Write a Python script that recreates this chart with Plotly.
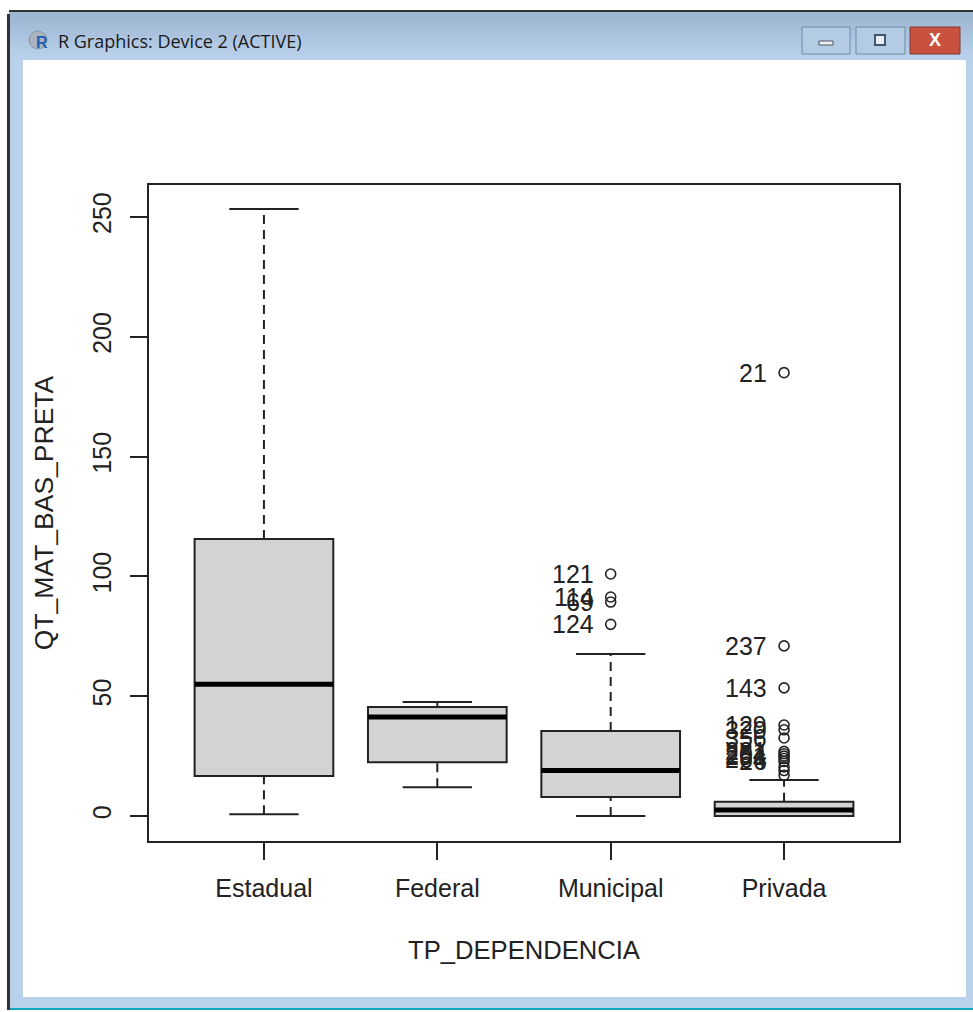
import plotly.graph_objects as go

categories = ["Estadual", "Federal", "Municipal", "Privada"]
positions = [1, 2, 3, 4]
whisker_low = [0.8, 12, 0, 0]
q1 = [16.7, 22.5, 8, 0]
median = [55, 41.3, 19, 2.5]
q3 = [115.6, 45.5, 35.5, 6]
whisker_high = [253.3, 47.6, 67.6, 15]

outlier_x = [3, 3, 3, 3, 4, 4, 4, 4, 4, 4, 4, 4, 4, 4, 4, 4, 4, 4]
outlier_y = [101, 91.4, 89.3, 80, 185, 71, 53.5, 38, 36, 32.6, 27, 26, 25, 24, 22.8, 20.5, 19, 17]
outlier_label = ["121", "114", "69", "124", "21", "237", "143", "129", "320", "356",
                 "281", "204", "251", "264", "26", "", "", ""]

y_ticks = [0, 50, 100, 150, 200, 250]
x_title = "TP_DEPENDENCIA"
y_title = "QT_MAT_BAS_PRETA"
window_title = "R Graphics: Device 2 (ACTIVE)"

W, H = 973, 1012
INK = "#222222"
FONT = "Liberation Sans"

fig = go.Figure()

fig.add_trace(go.Box(
    x=positions, q1=q1, median=median, q3=q3,
    lowerfence=q1, upperfence=q3, width=0.8, whiskerwidth=0,
    boxpoints=False, fillcolor="#d3d3d3", line=dict(color=INK, width=2),
    showlegend=False, hoverinfo="skip",
))

wx, wy, cx, cy, mx, my = [], [], [], [], [], []
for i, p in enumerate(positions):
    wx += [p, p, None, p, p, None]
    wy += [whisker_low[i], q1[i], None, q3[i], whisker_high[i], None]
    cx += [p - 0.2, p + 0.2, None, p - 0.2, p + 0.2, None]
    cy += [whisker_low[i], whisker_low[i], None, whisker_high[i], whisker_high[i], None]
    mx += [p - 0.4, p + 0.4, None]
    my += [median[i], median[i], None]

fig.add_trace(go.Scatter(x=wx, y=wy, mode="lines", showlegend=False, hoverinfo="skip",
                         line=dict(color=INK, width=2, dash="9px,6px")))
fig.add_trace(go.Scatter(x=cx, y=cy, mode="lines", showlegend=False, hoverinfo="skip",
                         line=dict(color=INK, width=2)))
fig.add_trace(go.Scatter(x=mx, y=my, mode="lines", showlegend=False, hoverinfo="skip",
                         line=dict(color="#000000", width=5)))
fig.add_trace(go.Scatter(x=outlier_x, y=outlier_y, mode="markers", showlegend=False,
                         hoverinfo="skip",
                         marker=dict(symbol="circle-open", size=10, color=INK,
                                     line=dict(color=INK, width=1.6))))

annotations = []
for x, y, t in zip(outlier_x, outlier_y, outlier_label):
    if t:
        annotations.append(dict(x=x, y=y, xref="x", yref="y", text=t, showarrow=False,
                                xanchor="right", yanchor="middle", xshift=-15, yshift=0,
                                font=dict(family=FONT, size=25, color=INK)))

# window frame, drawn on an overlay axis measured in page pixels
shapes = []


def rect(x0, y0, x1, y1, fill, line=None, lw=0):
    shapes.append(dict(type="rect", xref="x2", yref="y2", x0=x0, y0=y0, x1=x1, y1=y1,
                       fillcolor=fill, line=dict(color=line or fill, width=lw), layer="below"))


bar_colors = ["#9db6d1", "#a1b9d4", "#a5bdd8", "#a9c1dc", "#adc5e0", "#b1c9e3", "#b5cde6", "#b8d0e9"]
for k, c in enumerate(bar_colors):
    rect(9, 12 + k * 6, W, 18 + k * 6, c)
rect(9, 60, 23, 997, "#b9d1ea")
rect(966, 60, W, 997, "#b9d1ea")
rect(9, 997, W, 1008, "#b9d1ea")
rect(9, 1008, W, 1010, "#12a5b5")
rect(7, 14, 10, 1010, "#333333")
rect(9, 10, W, 12, "#333333")
rect(802, 27, 850, 54, "#b4cbe4", "#6f8ba8", 1)
rect(856, 27, 905, 54, "#b4cbe4", "#6f8ba8", 1)
rect(910, 27, 960, 54, "#c8523f", "#7d3a34", 1)
rect(819, 41, 833, 45, "#f0f0f0", "#445566", 1)
rect(875, 35, 885, 45, "#e6edf5", "#445566", 2)

shapes.append(dict(type="circle", xref="x2", yref="y2", x0=29, y0=31, x1=47, y1=49,
                   fillcolor="#a9b4c0", line=dict(color="#8796a6", width=1), layer="below"))

annotations.append(dict(x=56, y=41, xref="x2", yref="y2", text=window_title, showarrow=False,
                        xanchor="left", yanchor="middle",
                        font=dict(family="Open Sans", size=18, color="#1a1a1a")))
annotations.append(dict(x=42, y=42, xref="x2", yref="y2", text="<b>R</b>", showarrow=False,
                        font=dict(family=FONT, size=16, color="#1f5fb0")))
annotations.append(dict(x=935, y=40, xref="x2", yref="y2", text="<b>X</b>", showarrow=False,
                        font=dict(family=FONT, size=18, color="#ffffff")))

axis_common = dict(showline=True, linecolor=INK, linewidth=2, mirror=True, showgrid=False,
                   zeroline=False, ticks="outside", ticklen=17, tickwidth=2, tickcolor=INK,
                   tickfont=dict(family=FONT, size=25, color=INK))

fig.update_layout(
    width=W, height=H, autosize=False,
    margin=dict(l=0, r=0, t=0, b=0),
    paper_bgcolor="white", plot_bgcolor="rgba(0,0,0,0)",
    showlegend=False, shapes=shapes, annotations=annotations,
    xaxis=dict(domain=[149 / W, 899 / W], range=[0.337, 4.663],
               tickmode="array", tickvals=positions, ticktext=categories,
               ticklabelstandoff=7,
               title=dict(text=x_title, standoff=40,
                          font=dict(family=FONT, size=25.6, color=INK)),
               **axis_common),
    yaxis=dict(domain=[1 - 841 / H, 1 - 185 / H], range=[-10.4, 263.3],
               tickmode="array", tickvals=y_ticks, tickangle=-90,
               ticklabelstandoff=9,
               title=dict(text=y_title, standoff=27,
                          font=dict(family=FONT, size=26.5, color=INK)),
               **axis_common),
    xaxis2=dict(domain=[0, 1], range=[0, W], visible=False, fixedrange=True, anchor="y2"),
    yaxis2=dict(domain=[0, 1], range=[H, 0], visible=False, fixedrange=True, anchor="x2"),
)

fig.write_html("out.html", post_script="document.body.style.margin='0';",
               config=dict(displayModeBar=False))
